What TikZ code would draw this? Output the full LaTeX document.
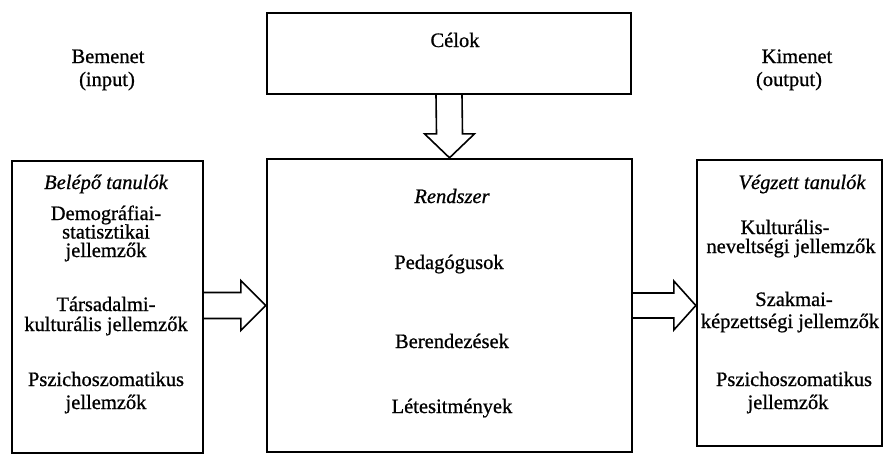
\documentclass[tikz,border=0pt]{standalone}
\usepackage{fontspec}
\setmainfont{Liberation Serif}[UprightFeatures={FakeBold=0.8}, ItalicFeatures={FakeBold=0.8}]
\usetikzlibrary{calc}
\tikzset{
  box/.style={draw, line width=2.4pt, rectangle, inner sep=0pt},
  barrow/.style={draw, line width=1.6pt, line join=miter},
  txt/.style={font=\fontsize{20.5}{24}\selectfont, inner sep=0pt, anchor=base},
  itxt/.style={txt, font=\fontsize{20.5}{24}\selectfont\itshape},
}
\begin{document}
\begin{tikzpicture}[x=1pt,y=-1pt]
\useasboundingbox (0,0) rectangle (885,455);
% boxes
\node[box, minimum width=364pt, minimum height=81pt] (celok) at (449,53.5) {};
\node[box, minimum width=365pt, minimum height=293pt] (mid) at (449.5,305.5) {};
\node[box, minimum width=191pt, minimum height=292pt] (lbox) at (107.5,307) {};
\node[box, minimum width=185pt, minimum height=286pt] (rbox) at (789.5,303) {};
% axis points of the block arrows
\coordinate (ina) at (lbox.east |- mid.west);
\coordinate (outb) at (rbox.west |- mid.east);
% down arrow
\draw[barrow] ($(celok.south)+(-13,0)$) -- ($(mid.north)+(-13,-24)$) -- ($(mid.north)+(-25,-24)$)
  -- (mid.north) -- ($(mid.north)+(25,-24)$) -- ($(mid.north)+(13,-24)$) -- ($(celok.south)+(13,0)$);
% input arrow
\draw[barrow] ($(ina)+(0,-13)$) -- ($(mid.west)+(-25,-13)$) -- ($(mid.west)+(-25,-25)$)
  -- (mid.west) -- ($(mid.west)+(-25,25)$) -- ($(mid.west)+(-25,13)$) -- ($(ina)+(0,13)$);
% output arrow
\draw[barrow] ($(mid.east)+(0,-12.5)$) -- ($(outb)+(-22,-12.5)$) -- ($(outb)+(-22,-24.5)$)
  -- (outb) -- ($(outb)+(-22,24.5)$) -- ($(outb)+(-22,12.5)$) -- ($(mid.east)+(0,12.5)$);
% top labels
\node[txt] (bem) at (108,63) {Bemenet};
\node[txt] (inp) at (107,86) {(input)};
\node[txt] (kim) at (797,63) {Kimenet};
\node[txt] (outp) at (789,86) {(output)};
\node[txt] (cel) at (455,47) {Célok};
% left box
\node[itxt] (l0) at (106,189) {Belépő tanulók};
\node[txt] (l1) at (106,220) {Demográfiai-};
\node[txt] (l2) at (106,238.5) {statisztikai};
\node[txt] (l3) at (106,257) {jellemzők};
\node[txt] (l4) at (106,311) {Társadalmi-};
\node[txt] (l5) at (106,331) {kulturális jellemzők};
\node[txt] (l6) at (106,386) {Pszichoszomatikus};
\node[txt] (l7) at (106,409) {jellemzők};
% middle box
\node[itxt] (m0) at (452,203) {Rendszer};
\node[txt] (m1) at (449,269) {Pedagógusok};
\node[txt] (m2) at (452,348) {Berendezések};
\node[txt] (m3) at (452,413) {Létesitmények};
% right box
\node[itxt] (r0) at (802,189) {Végzett tanulók};
\node[txt] (r1) at (785,234) {Kulturális-};
\node[txt] (r2) at (791,253) {neveltségi jellemzők};
\node[txt] (r3) at (794,306) {Szakmai-};
\node[txt] (r4) at (790,328) {képzettségi jellemzők};
\node[txt] (r5) at (794,386) {Pszichoszomatikus};
\node[txt] (r6) at (788,409) {jellemzők};
\end{tikzpicture}
\end{document}
